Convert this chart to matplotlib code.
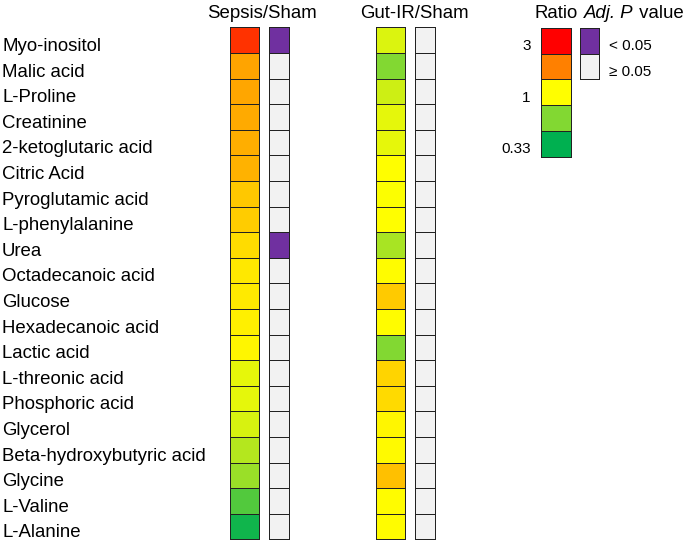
import numpy as np
import matplotlib
matplotlib.use("Agg")
import matplotlib.pyplot as plt
from matplotlib.colors import LinearSegmentedColormap, LogNorm, ListedColormap, BoundaryNorm
import matplotlib.transforms as mtransforms

plt.rcParams['font.family'] = ['Liberation Sans', 'DejaVu Sans']

metabolites = ["Myo-inositol", "Malic acid", "L-Proline", "Creatinine",
               "2-ketoglutaric acid", "Citric Acid", "Pyroglutamic acid",
               "L-phenylalanine", "Urea", "Octadecanoic acid", "Glucose",
               "Hexadecanoic acid", "Lactic acid", "L-threonic acid",
               "Phosphoric acid", "Glycerol", "Beta-hydroxybutyric acid",
               "Glycine", "L-Valine", "L-Alanine"]
sepsis_ratio = [2.40, 1.48, 1.46, 1.44, 1.41, 1.39, 1.27, 1.25, 1.16, 1.10,
                1.09, 1.07, 1.04, 0.90, 0.89, 0.84, 0.72, 0.64, 0.47, 0.36]
gutir_ratio = [0.85, 0.58, 0.80, 0.89, 0.90, 1.00, 0.99, 1.00, 0.68, 1.01,
               1.26, 1.01, 0.58, 1.20, 1.17, 1.04, 1.02, 1.31, 1.01, 1.01]
sepsis_sig = [1, 0, 0, 0, 0, 0, 0, 0, 1, 0, 0, 0, 0, 0, 0, 0, 0, 0, 0, 0]
gutir_sig = [0] * 20

column_titles = ["Sepsis/Sham", "Gut-IR/Sham"]
legend_ratios = [3.0, 1.73, 1.0, 0.58, 0.33]
legend_ratio_labels = ["3", "", "1", "", "0.33"]
legend_sig = [1, 0]
legend_sig_labels = ["< 0.05", "\u2265 0.05"]

W, H = 685, 542
fig = plt.figure(figsize=(W / 100, H / 100), dpi=100)

cmap = LinearSegmentedColormap.from_list(
    "ratio", [(0.0, "#00B050"), (0.25, "#82D832"), (0.5, "#FFFF00"),
              (0.75, "#FF8000"), (1.0, "#FF0000")])
norm = LogNorm(vmin=1 / 3, vmax=3)
pcmap = ListedColormap(["#F2F2F2", "#7030A0"])
pnorm = BoundaryNorm([-0.5, 0.5, 1.5], 2)

EDGE = "#222222"
LW = 0.6


def px_axes(x0, y0, x1, y1):
    return fig.add_axes([x0 / W, 1 - y1 / H, (x1 - x0) / W, (y1 - y0) / H])


def draw_col(ax, values, cm, nm):
    arr = np.asarray(values, dtype=float).reshape(-1, 1)
    m = ax.pcolormesh(arr, cmap=cm, norm=nm, edgecolors=EDGE, linewidth=LW)
    m.set_clip_on(False)
    ax.set_xlim(0, 1)
    ax.set_ylim(len(values), 0)
    ax.set_axis_off()


top, bot = 27.3, 539.3
ax_s = px_axes(230, top, 259.3, bot)
ax_sp = px_axes(269.3, top, 288.7, bot)
ax_g = px_axes(376, top, 405.3, bot)
ax_gp = px_axes(415.3, top, 434.7, bot)
draw_col(ax_s, sepsis_ratio, cmap, norm)
draw_col(ax_sp, sepsis_sig, pcmap, pnorm)
draw_col(ax_g, gutir_ratio, cmap, norm)
draw_col(ax_gp, gutir_sig, pcmap, pnorm)

FS = 13.4
# row labels
blend = mtransforms.blended_transform_factory(fig.transFigure, ax_s.transData)
tr = mtransforms.offset_copy(blend, fig=fig, y=-10.9, units='dots')
for i, name in enumerate(metabolites):
    fig.text(2 / W, i + 0.5, name, transform=tr, ha='left', va='baseline',
             fontsize=FS)

# column titles
fig.text(262 / W, 1 - 17.5 / H, column_titles[0], ha='center', va='baseline', fontsize=FS)
fig.text(414 / W, 1 - 17.5 / H, column_titles[1], ha='center', va='baseline', fontsize=FS)

# legends
ax_lr = px_axes(541, 28, 570.7, 156.7)
ax_lp = px_axes(580, 28, 599.3, 79)
draw_col(ax_lr, legend_ratios, cmap, norm)
draw_col(ax_lp, legend_sig, pcmap, pnorm)

LFS = 11
tr_lr = mtransforms.offset_copy(ax_lr.transData, fig=fig, x=-10.5, y=-9.5, units='dots')
for i, lab in enumerate(legend_ratio_labels):
    if lab:
        ax_lr.text(0, i + 0.5, lab, transform=tr_lr, ha='right', va='baseline',
                   fontsize=LFS, clip_on=False)
tr_lp = mtransforms.offset_copy(ax_lp.transData, fig=fig, x=9.5, y=-9.5, units='dots')
for i, lab in enumerate(legend_sig_labels):
    ax_lp.text(1, i + 0.5, lab, transform=tr_lp, ha='left', va='baseline',
               fontsize=LFS, clip_on=False)

fig.text(556 / W, 1 - 18 / H, "Ratio", ha='center', va='baseline', fontsize=FS)
t1 = fig.text(584 / W, 1 - 18 / H, "Adj. P", ha='left', va='baseline', fontsize=FS,
              fontstyle='italic')
fig.canvas.draw()
bb = t1.get_window_extent(renderer=fig.canvas.get_renderer())
fig.text(bb.x1 / W, 1 - 18 / H, " value", ha='left', va='baseline', fontsize=FS)

fig.savefig("out.png", dpi=100)
